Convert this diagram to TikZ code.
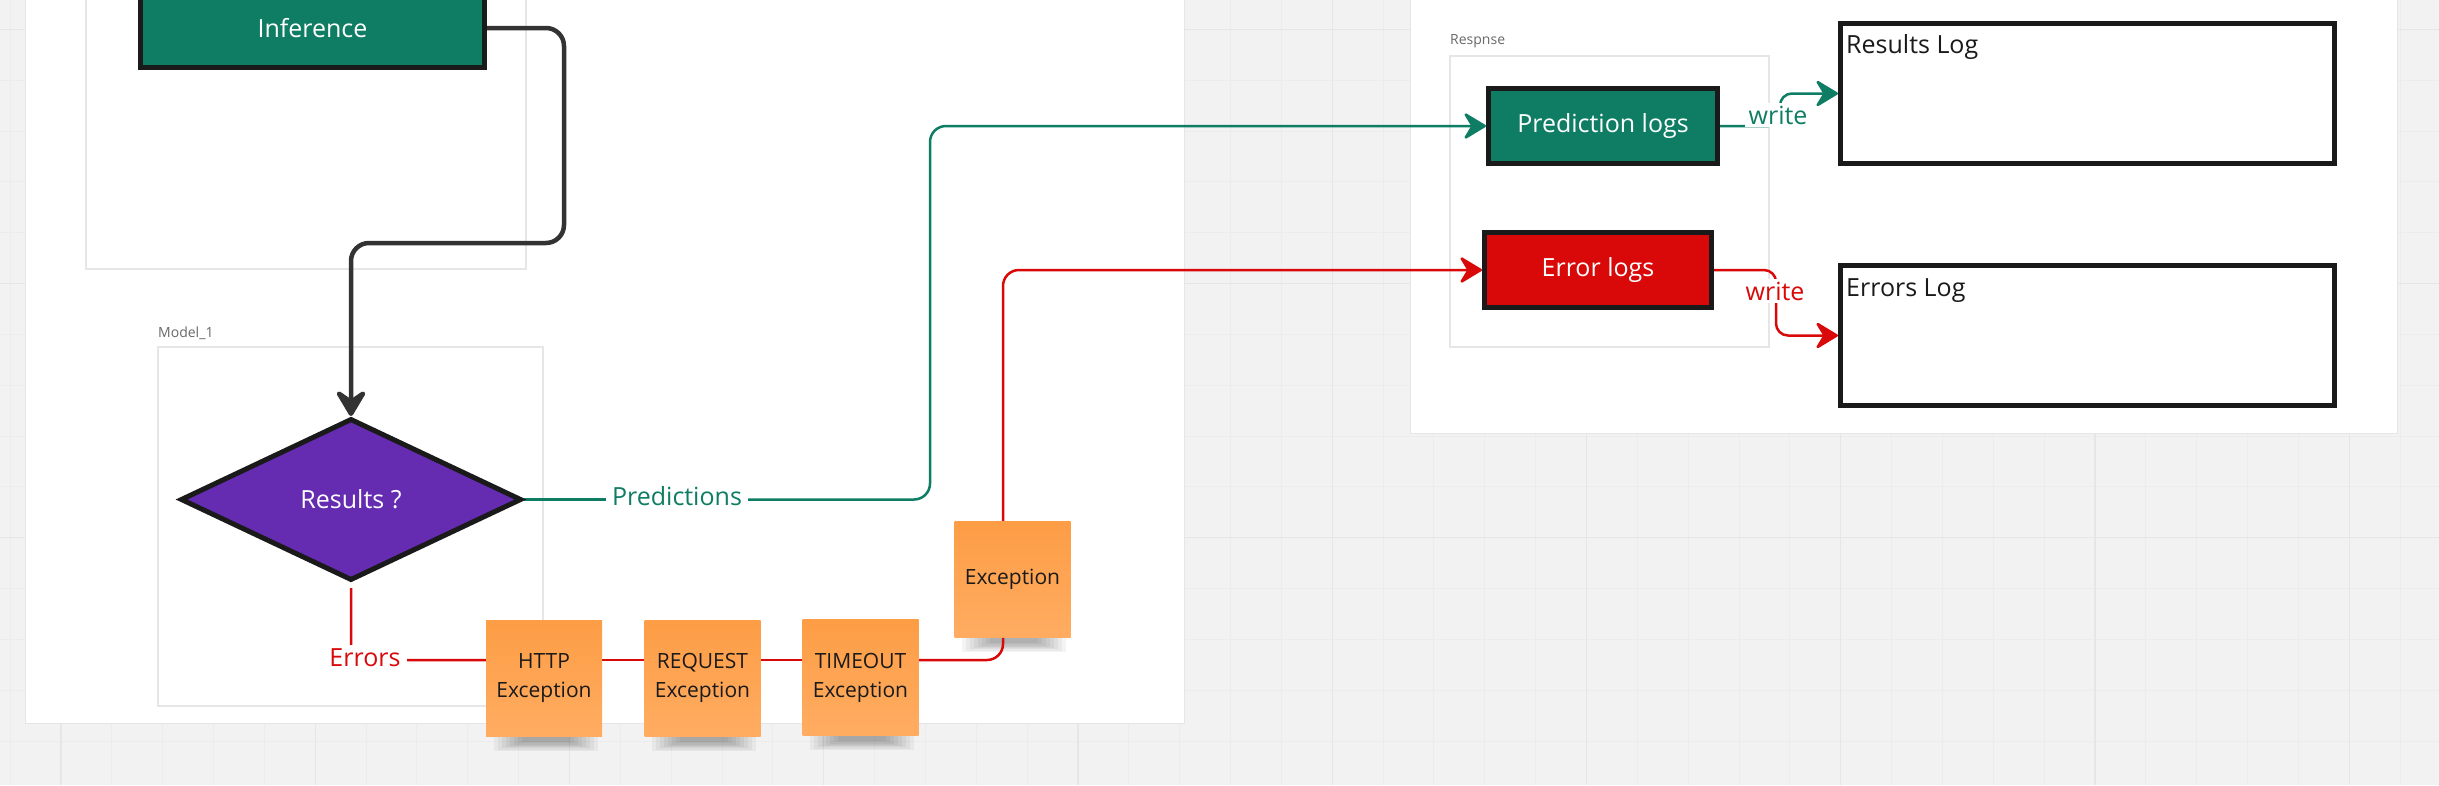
\documentclass[tikz,border=0pt]{standalone}
\usepackage{fontspec}
\setmainfont{Open Sans}
\usetikzlibrary{shapes.geometric,arrows.meta,calc}
\definecolor{tealc}{RGB}{14,125,100}
\definecolor{purpc}{RGB}{101,44,177}
\definecolor{redc}{RGB}{217,9,9}
\definecolor{darkc}{RGB}{51,51,51}
\definecolor{borderc}{RGB}{26,26,26}
\definecolor{gridbg}{RGB}{242,242,242}
\definecolor{gridmin}{RGB}{236,236,236}
\definecolor{gridmaj}{RGB}{230,230,230}
\definecolor{contc}{RGB}{230,230,230}
\definecolor{orangetop}{RGB}{253,157,69}
\definecolor{orangebot}{RGB}{255,172,98}
\definecolor{ctextc}{RGB}{105,105,105}
\pgfdeclarelayer{bg}
\pgfdeclarelayer{ln}
\pgfsetlayers{bg,ln,main}
\begin{document}
\begin{tikzpicture}[x=1pt,y=-1pt,
  tbox/.style={rectangle, draw=borderc, line width=5pt, text=white, inner sep=0pt,
    font=\fontsize{25}{30}\selectfont},
  logbox/.style={rectangle, draw=borderc, line width=5pt, fill=white, inner sep=0pt},
  logtxt/.style={inner sep=0pt, text=borderc, font=\fontsize{25}{30}\selectfont},
  ctxt/.style={inner sep=0pt, text=ctextc, font=\fontsize{14}{17}\selectfont},
  lbl/.style={fill=white, inner xsep=6pt, inner ysep=3pt, font=\fontsize{25}{30}\selectfont},
  note/.style={rectangle, minimum width=116pt, minimum height=116pt, inner sep=0pt,
    top color=orangetop, bottom color=orangebot, align=center, text=borderc,
    font=\fontsize{21}{29}\selectfont},
  tline/.style={draw=tealc, line width=2.5pt, rounded corners=16pt},
  rline/.style={draw=redc, line width=2.5pt, rounded corners=16pt},
  tiparrow/.style={-{Stealth[length=25pt,width=30pt,inset=9pt,round]}},
  panel/.style={fill=white, draw=gridmaj, line width=1pt},
  container/.style={draw=contc, line width=1.5pt}
]
\useasboundingbox (0,0) rectangle (2439,785);
\clip (0,0) rectangle (2439,785);

% ---------- background ----------
\begin{pgfonlayer}{bg}
  \fill[gridbg] (0,0) rectangle (2439,785);
  \foreach \k in {0,...,47} {
    \pgfmathsetmacro\xx{10.15+50.85*\k}
    \draw[gridmin, line width=1pt] (\xx,0) -- (\xx,785);
  }
  \foreach \k in {0,...,15} {
    \pgfmathsetmacro\yy{29.3+50.85*\k}
    \draw[gridmin, line width=1pt] (0,\yy) -- (2439,\yy);
  }
  \foreach \k in {1,6,...,46} {
    \pgfmathsetmacro\xx{10.15+50.85*\k}
    \draw[gridmaj, line width=1.3pt] (\xx,0) -- (\xx,785);
  }
  \foreach \k in {0,5,10,15} {
    \pgfmathsetmacro\yy{29.3+50.85*\k}
    \draw[gridmaj, line width=1.3pt] (0,\yy) -- (2439,\yy);
  }
  \filldraw[panel] (25,-20) rectangle (1184,723);
  \filldraw[panel] (1410,-20) rectangle (2397,433);
  \draw[container] (86,-20) rectangle (526,269);
  \draw[container] (158,347) rectangle (543,706);
  \draw[container] (1450,56) rectangle (1769,347);
  % soft sticky-note shadows
  \foreach \cx/\cy in {546/739, 704/739, 862/738, 1014/640} {
    \foreach \i in {0,...,7} {
      \fill[black, opacity=0.045] (\cx-52+4*\i,\cy-6) rectangle (\cx+52-4*\i,\cy+12-1.3*\i);
    }
  }
\end{pgfonlayer}

% ---------- nodes ----------
\node[tbox, fill=tealc, minimum width=344pt, minimum height=79pt] (inf) at (312.5,28) {Inference};
\node[diamond, draw=borderc, line width=5pt, fill=purpc, minimum width=341pt, minimum height=162pt,
  inner sep=0pt, text=white, font=\fontsize{25}{30}\selectfont] (res) at (351,499.5) {Results ?};

\node[lbl, text=tealc, anchor=base] (pred) at (677,505) {Predictions};
\node[lbl, text=redc, anchor=base] (err) at (365,666) {Errors};

\node[note] (http) at (544,678) {HTTP\\Exception};
\node[note] (req) at (702.5,678) {REQUEST\\Exception};
\node[note] (tout) at (860.5,677.5) {TIMEOUT\\Exception};
\node[note] (exc) at (1012.5,579) {Exception};

\node[tbox, fill=tealc, minimum width=229pt, minimum height=75pt] (plog) at (1603,126) {Prediction logs};
\node[tbox, fill=redc, minimum width=227pt, minimum height=75pt] (elog) at (1598,270) {Error logs};

\node[logbox, minimum width=494pt, minimum height=140pt] (rlog) at (2087.5,93.5) {};
\node[logtxt, anchor=base west] (rlogt) at (1846,53) {Results Log};
\node[logbox, minimum width=494pt, minimum height=140pt] (elg) at (2087.5,335.5) {};
\node[logtxt, anchor=base west] (elgt) at (1846,296) {Errors Log};

\node[lbl, text=tealc, anchor=base, inner xsep=4pt] (w1t) at (1778,124) {write};
\node[lbl, text=redc, anchor=base, inner xsep=4pt] (w2t) at (1775,300) {write};

\node[ctxt, anchor=base west] (m1) at (158,337) {Model\_1};
\node[ctxt, anchor=base west] (rsp) at (1450,44) {Respnse};

% ---------- connectors ----------
\coordinate (k1) at (564,243);
\coordinate (k2) at (351,243);
\coordinate (tc) at (930,126);
\coordinate (ec) at (351,660);
\coordinate (xb) at (1003,637);
\coordinate (xt) at (1003,521);
\coordinate (w1) at (1780,126);
\coordinate (w2) at (1776,270);

\begin{pgfonlayer}{ln}
  \draw[darkc, line width=4.5pt, rounded corners=18pt,
    -{Stealth[length=32pt,width=38pt,inset=13pt,round]}]
    (inf.east) -| (k1) -- (k2) -- (res.north);

  \draw[tline] (res.east) -- (res.east -| pred.west);
  \draw[tline, tiparrow] (res.east -| pred.east) -| (tc) -- (plog.west);

  \draw[rline, shorten <=5pt] (res.south) -- (ec) -- (ec -| http.west);
  \draw[rline] (ec -| http.east) -- (ec -| req.west);
  \draw[rline] (ec -| req.east) -- (ec -| tout.west);
  \draw[rline] (ec -| tout.east) -| (xb);
  \draw[rline, tiparrow] (xt) |- (elog.west);

  \draw[tline, rounded corners=12pt, tiparrow] (plog.east) -- (w1) |- (rlog.west);
  \draw[rline, rounded corners=12pt, tiparrow] (elog.east) -- (w2) |- (elg.west);
\end{pgfonlayer}
\end{tikzpicture}
\end{document}
